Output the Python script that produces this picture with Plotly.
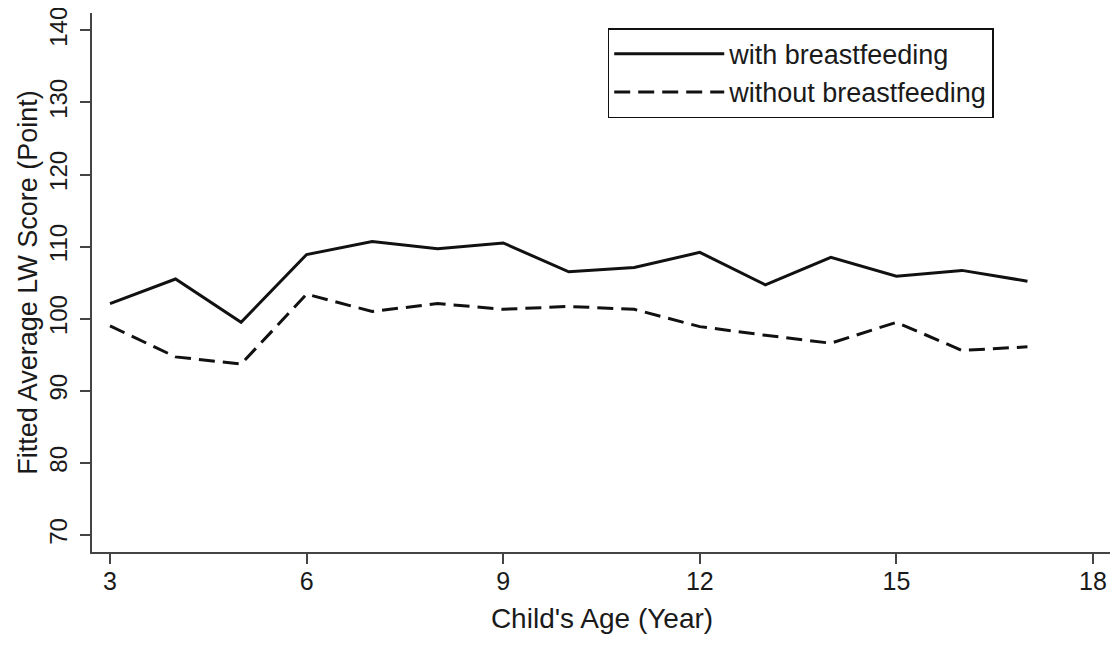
import plotly.graph_objects as go

ages = [3, 4, 5, 6, 7, 8, 9, 10, 11, 12, 13, 14, 15, 16, 17]
with_bf = [102.1, 105.5, 99.5, 108.9, 110.7, 109.7, 110.5, 106.5, 107.1, 109.2, 104.7, 108.5, 105.9, 106.7, 105.2]
without_bf = [99.0, 94.7, 93.7, 103.4, 101.0, 102.1, 101.3, 101.7, 101.3, 98.9, 97.7, 96.6, 99.5, 95.6, 96.1]
x_ticks = [3, 6, 9, 12, 15, 18]
y_ticks = [70, 80, 90, 100, 110, 120, 130, 140]

FONT = "Liberation Sans, Arial, sans-serif"
TXT = "#1a1a1a"
AX = "#444444"

fig = go.Figure()
fig.add_trace(go.Scatter(x=ages, y=with_bf, mode="lines", name="with breastfeeding",
                         line=dict(color="#111111", width=3)))
fig.add_trace(go.Scatter(x=ages, y=without_bf, mode="lines", name="without breastfeeding",
                         line=dict(color="#111111", width=3, dash="16px,8px")))

# page body has an 8px margin, so the figure is offset by (8, 8)
fig.update_layout(
    width=1110, height=637,
    margin=dict(l=84, r=6, t=5, b=93, autoexpand=False),
    paper_bgcolor="white", plot_bgcolor="white",
    font=dict(family=FONT, color=TXT),
    showlegend=True,
    legend=dict(x=0.5056, y=0.9716, xanchor="left", yanchor="top",
                bgcolor="white", bordercolor="#111111", borderwidth=1.5,
                font=dict(size=27, color=TXT), itemwidth=110, tracegroupgap=0),
    xaxis=dict(range=[2.725, 18.29], tickmode="array", tickvals=x_ticks,
               showgrid=False, zeroline=False, showline=True, linecolor=AX, linewidth=2,
               ticks="outside", ticklen=10, tickwidth=2, tickcolor=AX,
               ticklabelstandoff=-4,
               tickfont=dict(size=25, color=TXT),
               title=dict(text="Child's Age (Year)", font=dict(size=28, color=TXT), standoff=14)),
    yaxis=dict(range=[67.64, 142.4], tickmode="array", tickvals=y_ticks,
               showgrid=False, zeroline=False, showline=True, linecolor=AX, linewidth=2,
               ticks="outside", ticklen=10, tickwidth=2, tickcolor=AX, tickangle=-90,
               ticklabelstandoff=3, ticklabeloverflow="allow",
               tickfont=dict(size=24, color=TXT),
               title=dict(text="Fitted Average LW Score (Point)", font=dict(size=27, color=TXT), standoff=0)),
)

fig.write_html("out.html")
